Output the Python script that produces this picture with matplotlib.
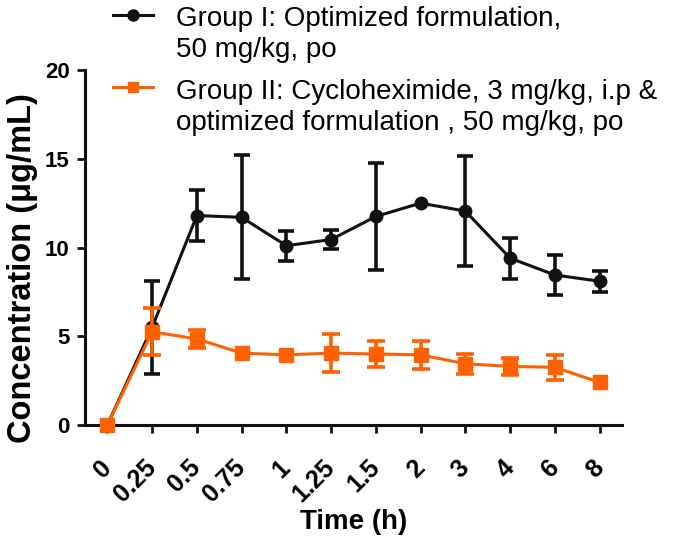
import numpy as np
import matplotlib
matplotlib.use("Agg")
import matplotlib.pyplot as plt
from matplotlib.lines import Line2D

plt.rcParams['font.family'] = ['Liberation Sans', 'DejaVu Sans']

# time points (h), plotted as categories
times = ['0', '0.25', '0.5', '0.75', '1', '1.25', '1.5', '2', '3', '4', '6', '8']

# Group I: optimized formulation
g1_mean = [0, 5.5, 11.8, 11.7, 10.1, 10.45, 11.75, 12.5, 12.05, 9.4, 8.45, 8.1]
g1_sd = [0, 2.6, 1.45, 3.5, 0.85, 0.53, 3.0, 0, 3.1, 1.15, 1.1, 0.58]

# Group II: cycloheximide + optimized formulation
g2_mean = [0, 5.25, 4.85, 4.05, 3.95, 4.05, 4.0, 3.95, 3.45, 3.3, 3.25, 2.4]
g2_sd = [0, 1.33, 0.5, 0, 0, 1.05, 0.75, 0.8, 0.55, 0.47, 0.72, 0]

label1 = 'Group I: Optimized formulation,\n50 mg/kg, po'
label2 = 'Group II: Cycloheximide, 3 mg/kg, i.p &\noptimized formulation , 50 mg/kg, po'

black = '#111111'
orange = '#ff6000'

W, H = 685, 542
fig = plt.figure(figsize=(W / 100, H / 100), dpi=100)
ax = fig.add_axes([85 / W, 1 - 425 / H, 537 / W, 355 / H])

x = np.arange(len(times))


def draw(mean, sd, color, marker, ms, cap, z):
    mean = np.array(mean, float)
    sd = np.array(sd, float)
    m = sd > 0
    ax.errorbar(x[m], mean[m], yerr=sd[m], fmt='none', ecolor=color,
                elinewidth=2.6, capsize=cap, capthick=2.6, zorder=z, clip_on=False)
    ax.plot(x, mean, color=color, lw=2.2, marker=marker, ms=ms,
            zorder=z + 0.5, clip_on=False)


draw(g1_mean, g1_sd, black, 'o', 9, 6, 3)
draw(g2_mean, g2_sd, orange, 's', 10, 6.5, 4)

ax.set_xlim(-0.5, 11.5)
ax.set_ylim(0, 20)
ax.set_yticks([0, 5, 10, 15, 20])
ax.set_xticks(x)
ax.set_xticklabels(times)

for s in ['top', 'right']:
    ax.spines[s].set_visible(False)
for s in ['left', 'bottom']:
    ax.spines[s].set_linewidth(2.2)
    ax.spines[s].set_color(black)

ax.tick_params(axis='both', width=2, length=6, color=black, labelsize=16)
ax.tick_params(axis='y', pad=5)
ax.tick_params(axis='x', pad=22, labelsize=18)
for t in ax.get_yticklabels():
    t.set_fontweight('bold')
for t in ax.get_xticklabels():
    t.set_fontweight('bold')
    t.set_rotation(45)
    t.set_ha('right')
    t.set_va('center')
    t.set_rotation_mode('anchor')

ax.set_xlabel('Time (h)', fontsize=20, fontweight='bold')
ax.xaxis.set_label_coords(0.5, -0.238)
ax.set_ylabel('Concentration (μg/mL)', fontsize=23.5, fontweight='bold')
ax.yaxis.set_label_coords(-0.088, 0.442)

# legend drawn by hand so the handle sits on the first line
# (text y is the baseline of the last line)
for yy, color, marker, ms, lab, ybase in [(15, black, 'o', 8, label1, 57),
                                          (87, orange, 's', 7.5, label2, 130)]:
    fig.add_artist(Line2D([113 / W, 153 / W], [1 - yy / H] * 2, color=color, lw=2.2,
                          transform=fig.transFigure))
    fig.add_artist(Line2D([133 / W], [1 - yy / H], color=color, marker=marker, ms=ms,
                          transform=fig.transFigure))
    fig.text(176 / W, 1 - ybase / H, lab, fontsize=20, va='baseline', ha='left',
             linespacing=1.25)

fig.savefig('out.png', dpi=100)
